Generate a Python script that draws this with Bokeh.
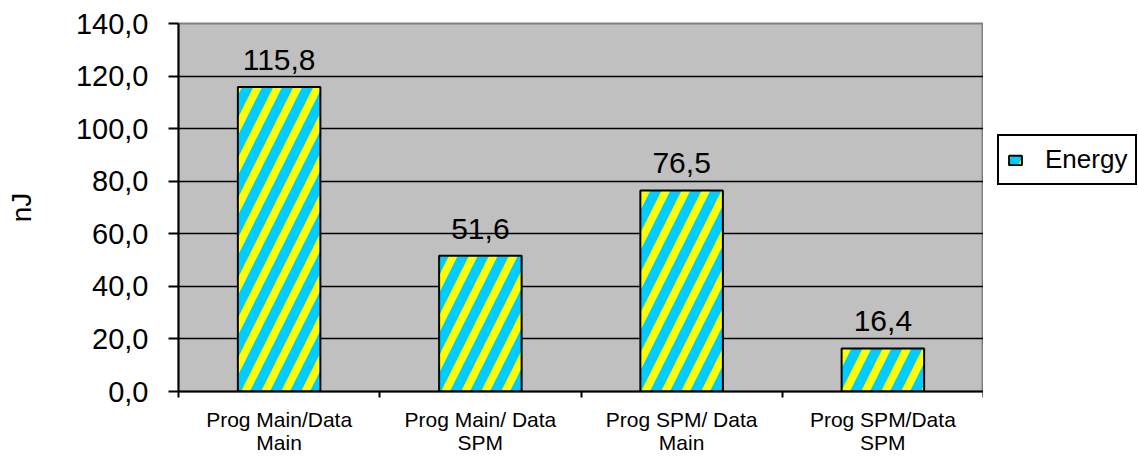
from bokeh.plotting import figure
from bokeh.layouts import row
from bokeh.models import (ColumnDataSource, Range1d, FixedTicker, CustomJSTickFormatter,
                          LabelSet, Legend, LegendItem)
from bokeh.core.properties import value
from bokeh.embed import file_html
from bokeh.resources import INLINE
import numpy as np

categories = ["Prog Main/Data\nMain", "Prog Main/ Data\nSPM", "Prog SPM/ Data\nMain", "Prog SPM/Data\nSPM"]
energy = [115.8, 51.6, 76.5, 16.4]
y_ticks = [0, 20, 40, 60, 80, 100, 120, 140]
series_name = "Energy"
y_label = "nJ"

FONT = "Liberation Sans"
BAR_STYLE = dict(fill_color="#FFFF00", line_color="black", line_width=2,
                 hatch_pattern="/", hatch_color="#00CCFF", hatch_weight=10, hatch_scale=40)

xpos = np.arange(len(categories)) + 0.5
src = ColumnDataSource(dict(
    x=xpos, top=energy,
    txt=[f"{v:.1f}".replace(".", ",") for v in energy],
))

p = figure(width=983, height=456, output_backend="svg", toolbar_location=None,
           x_range=Range1d(0, len(categories)), y_range=Range1d(y_ticks[0], y_ticks[-1]),
           min_border_left=178, min_border_right=0, min_border_top=23, min_border_bottom=63)
p.background_fill_color = "#C0C0C0"
p.border_fill_color = "white"
p.outline_line_color = "#808080"
p.outline_line_width = 2

bars = p.vbar(x="x", top="top", bottom=0, width=0.41, source=src, **BAR_STYLE)

labels = LabelSet(x="x", y="top", text="txt", source=src, text_align="center",
                  text_baseline="alphabetic", y_offset=17, text_font=value(FONT),
                  text_font_size="30px", text_color="black")
p.add_layout(labels)

# y axis
yax = p.yaxis[0]
yax.ticker = FixedTicker(ticks=y_ticks)
yax.formatter = CustomJSTickFormatter(code="return tick.toFixed(1).replace('.', ',');")
yax.major_tick_out = 10
yax.major_tick_in = 0
yax.minor_tick_out = 0
yax.minor_tick_in = 0
yax.axis_line_width = 2
yax.major_tick_line_width = 2
yax.major_label_text_font = FONT
yax.major_label_text_font_size = "29px"
yax.major_label_text_color = "black"
yax.major_label_standoff = 20
yax.axis_label = y_label
yax.axis_label_text_font = FONT
yax.axis_label_text_font_size = "28px"
yax.axis_label_text_font_style = "normal"
yax.axis_label_text_color = "black"
yax.axis_label_standoff = 36

# x axis: labels at centers, boundary ticks as minor ticks
xax = p.xaxis[0]
xax.ticker = FixedTicker(ticks=list(xpos), minor_ticks=list(range(len(categories) + 1)))
xax.major_label_overrides = {float(x): c for x, c in zip(xpos, categories)}
xax.major_tick_out = 0
xax.major_tick_in = 0
xax.minor_tick_out = 6
xax.minor_tick_in = 0
xax.minor_tick_line_width = 2
xax.minor_tick_line_color = "black"
xax.axis_line_width = 2
xax.major_label_text_font = FONT
xax.major_label_text_font_size = "21px"
xax.major_label_text_color = "black"
xax.major_label_text_line_height = 1.0
xax.major_label_standoff = 10

p.xgrid.visible = False
p.ygrid.ticker = FixedTicker(ticks=y_ticks[1:-1])
p.ygrid.grid_line_color = "black"
p.ygrid.grid_line_width = 1.5

# legend panel to the right of the chart
pl = figure(width=155, height=456, output_backend="svg", toolbar_location=None,
            x_range=Range1d(0, 1), y_range=Range1d(0, 1),
            min_border=0, outline_line_color=None)
pl.axis.visible = False
pl.grid.visible = False
# a bar with no position: nothing is drawn, only its legend swatch is seen
legend_bar = pl.vbar(x=[float("nan")], top=[float("nan")], width=0.5, **BAR_STYLE)
legend = Legend(items=[LegendItem(label=series_name, renderers=[legend_bar])],
                location=(14, 206), margin=0,
                border_line_color="black", border_line_width=2, border_line_alpha=1,
                background_fill_color="white", background_fill_alpha=1,
                label_text_font=FONT, label_text_font_size="26px", label_text_color="black",
                glyph_width=16, glyph_height=12, label_standoff=22, padding=8, spacing=0)
pl.add_layout(legend)

layout = row(p, pl, spacing=0)
open("out.html", "w").write(file_html(layout, INLINE))
